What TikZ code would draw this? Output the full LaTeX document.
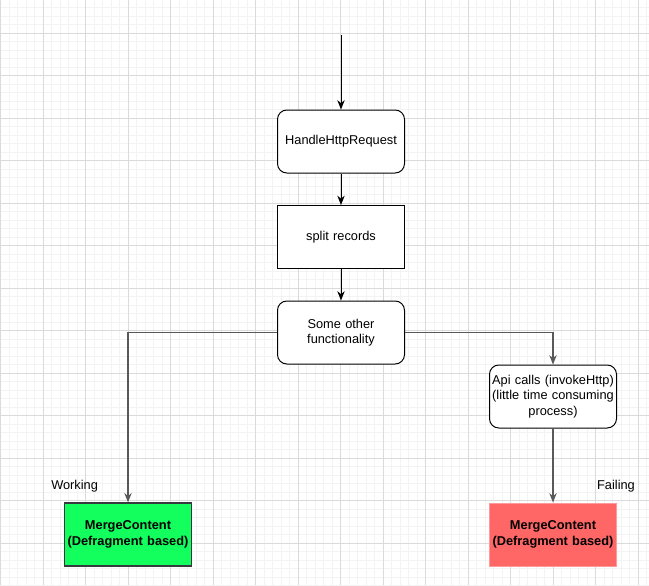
\documentclass[tikz,border=0pt]{standalone}
\usepackage{fontspec}
\setmainfont{Liberation Sans}
\usetikzlibrary{arrows.meta}
\definecolor{gridminor}{HTML}{F3F3F3}
\definecolor{gridmajor}{HTML}{DADADA}
\definecolor{okgreen}{HTML}{12FF5E}
\definecolor{failred}{HTML}{FF6666}
\definecolor{failedge}{HTML}{FF9A9A}
\definecolor{edgegray}{HTML}{36393D}
\begin{document}
\begin{tikzpicture}[
      x=0.75pt, y=-0.75pt,
      % --- GLOBAL STYLES ---
      every node/.style={font=\fontsize{9.6}{11.6}\selectfont},
      minor-grid/.style={draw=gridminor, line width=0.75pt},
      major-grid/.style={draw=gridmajor, line width=0.75pt},
      proc/.style={rectangle, draw=black, fill=white, line width=0.75pt, rounded corners=7pt, align=center,
                   minimum width=95.25pt, minimum height=47.25pt, text width=92pt, inner sep=1.5pt},
      plain/.style={proc, rounded corners=0pt},
      merge-ok/.style={plain, fill=okgreen, draw=edgegray, line width=1pt, font=\fontsize{9.6}{11.8}\selectfont\bfseries},
      merge-fail/.style={plain, fill=failred, draw=failedge, font=\fontsize{9.6}{11.8}\selectfont\bfseries},
      flow/.style={line width=0.75pt, draw=black, -{Stealth[length=7pt,width=5.5pt]}},
      branch/.style={line width=1pt, draw=black!65, -{Stealth[length=7pt,width=5.5pt]}}
  ]
    \useasboundingbox (0,0) rectangle (649,585);
    %
    % 1. Background grid
    \fill[white] (0,0) rectangle (649,585);
    \foreach \k in {0,...,76} \draw[minor-grid] ({0.5+8.5*\k},0) -- ({0.5+8.5*\k},585);
    \foreach \k in {0,...,69} \draw[minor-grid] (0,{7.8+8.5*\k}) -- (649,{7.8+8.5*\k});
    \foreach \k in {0,...,15} \draw[major-grid] ({0.5+42.5*\k},0) -- ({0.5+42.5*\k},585);
    \foreach \k in {0,...,12} \draw[major-grid] (0,{33.3+42.5*\k}) -- (649,{33.3+42.5*\k});
    %
    % 2. Main flow
    \coordinate (entry) at (341,35);
    \node[proc] (handle) at (341,141.5) {HandleHttpRequest};
    \node[plain] (split) at (341,237) {split records};
    \node[proc] (other) at (341,332.5) {Some other\\functionality};
    %
    % 3. Branches
    \node[proc] (api) at (553,396.5) {Api calls (invokeHttp)\\(little time consuming\\process)};
    \node[merge-ok] (mergeok) at (128,534.5) {MergeContent\\(Defragment based)};
    \node[merge-fail] (mergefail) at (553,534.5) {MergeContent\\(Defragment based)};
    %
    % 4. Labels
    \node[anchor=west, inner sep=0pt] (working) at (51,486) {Working};
    \node[inner sep=0pt] (failing) at (616,486.5) {Failing};
    %
    % 5. Links
    \draw[flow] (entry) -- (handle.north);
    \draw[flow] (handle) -- (split);
    \draw[flow] (split) -- (other);
    \draw[branch] (other.west) -| (mergeok.north);
    \draw[branch] (other.east) -| (api.north);
    \draw[branch] (api) -- (mergefail);
  \end{tikzpicture}
\end{document}
